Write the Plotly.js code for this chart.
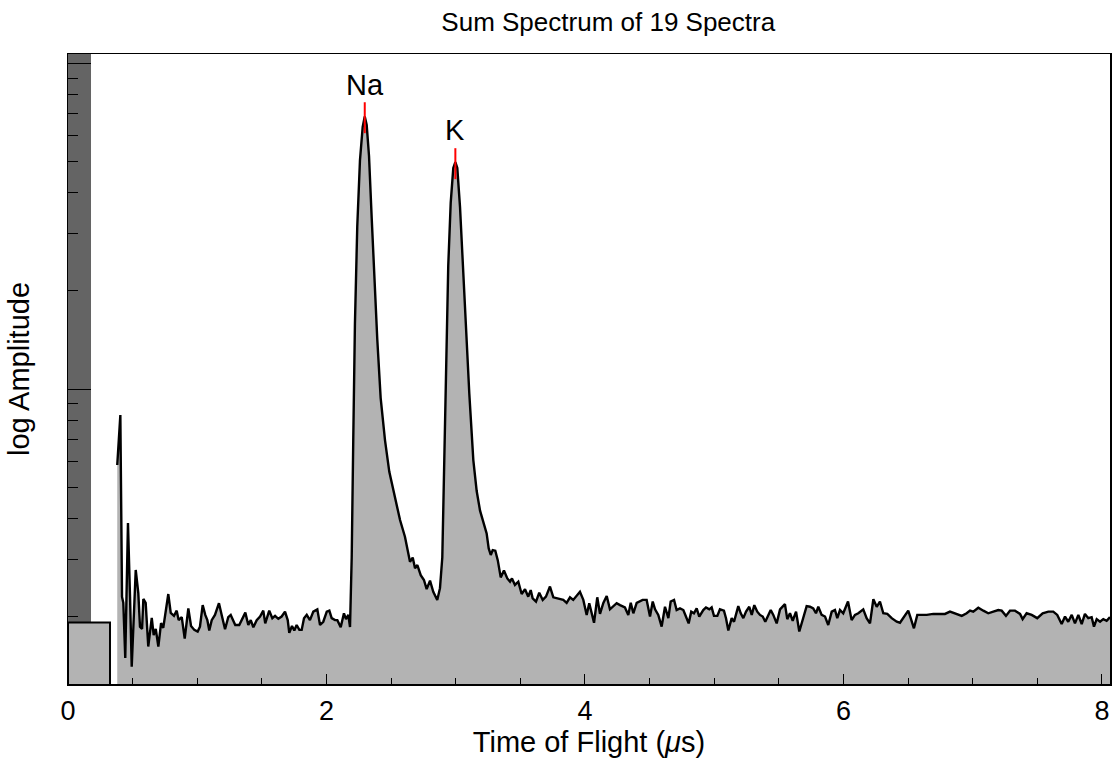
<!DOCTYPE html>
<html>
<head>
<meta charset="utf-8">
<script src="https://cdn.plot.ly/plotly-3.0.1.min.js"></script>
<style>html,body{margin:0;padding:0;background:#fff;}#chart{width:1112px;height:763px;}</style>
</head>
<body>
<div id="chart"></div>
<script>
// Time of flight (microseconds)
const tof = [
0.381,0.405,0.418,0.428,0.443,0.464,0.480,0.493,0.524,0.544,
0.557,0.573,0.583,0.601,0.621,0.648,0.663,0.679,0.699,0.720,
0.737,0.776,0.795,0.820,0.841,0.856,0.880,0.903,0.931,0.952,
0.977,1.003,1.021,1.042,1.062,1.078,1.093,1.112,1.137,1.168,
1.189,1.215,1.240,1.259,1.279,1.294,1.325,1.352,1.372,1.395,
1.414,1.434,1.460,1.486,1.511,1.526,1.557,1.581,1.602,1.627,
1.653,1.679,1.700,1.712,1.733,1.751,1.769,1.790,1.808,1.826,
1.847,1.872,1.898,1.929,1.950,1.975,2.002,2.022,2.040,2.066,
2.084,2.110,2.135,2.151,2.169,2.182,2.195,2.207,2.220,2.238,
2.259,2.280,2.296,2.311,2.329,2.350,2.370,2.393,2.419,2.453,
2.486,2.517,2.543,2.569,2.607,2.625,2.646,2.667,2.685,2.703,
2.729,2.754,2.775,2.801,2.826,2.857,2.878,2.896,2.909,2.925,
2.942,2.961,2.981,2.997,3.012,3.033,3.054,3.079,3.105,3.136,
3.162,3.188,3.213,3.239,3.255,3.271,3.286,3.306,3.325,3.348,
3.373,3.399,3.420,3.435,3.458,3.484,3.510,3.536,3.561,3.580,
3.595,3.621,3.646,3.673,3.698,3.729,3.755,3.793,3.832,3.858,
3.884,3.909,3.936,3.961,3.987,4.013,4.033,4.070,4.095,4.116,
4.142,4.168,4.193,4.219,4.245,4.271,4.309,4.335,4.354,4.374,
4.400,4.446,4.477,4.503,4.524,4.542,4.567,4.593,4.619,4.645,
4.663,4.689,4.709,4.735,4.761,4.781,4.802,4.822,4.843,4.864,
4.884,4.915,4.936,4.962,4.980,4.998,5.024,5.044,5.075,5.091,
5.109,5.135,5.153,5.186,5.205,5.225,5.246,5.271,5.290,5.310,
5.333,5.354,5.375,5.395,5.418,5.437,5.457,5.483,5.509,5.547,
5.565,5.586,5.607,5.633,5.658,5.684,5.715,5.741,5.766,5.787,
5.805,5.831,5.857,5.882,5.909,5.934,5.952,5.973,5.998,6.035,
6.063,6.089,6.115,6.153,6.179,6.205,6.231,6.257,6.282,6.308,
6.339,6.373,6.412,6.437,6.463,6.501,6.520,6.545,6.571,6.644,
6.695,6.747,6.785,6.824,6.876,6.915,6.953,6.979,7.004,7.043,
7.082,7.120,7.159,7.198,7.224,7.257,7.288,7.327,7.366,7.386,
7.417,7.456,7.499,7.541,7.585,7.623,7.654,7.688,7.714,7.739,
7.766,7.791,7.817,7.843,7.868,7.894,7.920,7.938,7.959,7.985,
8.010,8.036,8.062
];
// log10 of summed amplitude
const logAmp = [
1.767,1.920,1.362,1.344,1.175,1.589,1.362,1.148,1.445,1.374,
1.271,1.264,1.356,1.344,1.210,1.298,1.245,1.264,1.210,1.282,
1.267,1.371,1.313,1.304,1.320,1.291,1.300,1.234,1.327,1.273,
1.261,1.256,1.271,1.337,1.307,1.291,1.259,1.291,1.307,1.343,
1.307,1.263,1.300,1.307,1.289,1.276,1.276,1.300,1.314,1.276,
1.291,1.269,1.291,1.302,1.320,1.281,1.320,1.297,1.304,1.295,
1.302,1.317,1.291,1.252,1.273,1.259,1.276,1.261,1.261,1.297,
1.307,1.291,1.317,1.324,1.276,1.286,1.317,1.320,1.297,1.291,
1.291,1.269,1.312,1.294,1.307,1.270,1.483,1.842,2.200,2.499,
2.702,2.804,2.836,2.810,2.715,2.523,2.344,2.152,1.973,1.842,
1.746,1.687,1.644,1.598,1.547,1.516,1.470,1.483,1.450,1.460,
1.429,1.414,1.386,1.412,1.378,1.353,1.389,1.483,1.722,2.081,
2.379,2.571,2.678,2.696,2.678,2.559,2.391,2.176,1.985,1.782,
1.687,1.627,1.593,1.557,1.511,1.491,1.506,1.504,1.475,1.422,
1.443,1.419,1.409,1.419,1.399,1.409,1.371,1.386,1.363,1.383,
1.358,1.348,1.375,1.353,1.363,1.394,1.361,1.358,1.353,1.344,
1.361,1.353,1.368,1.378,1.353,1.307,1.343,1.283,1.361,1.310,
1.344,1.365,1.324,1.334,1.343,1.337,1.330,1.307,1.344,1.312,
1.344,1.353,1.353,1.302,1.348,1.324,1.307,1.271,1.332,1.297,
1.348,1.353,1.322,1.327,1.322,1.302,1.281,1.317,1.312,1.327,
1.302,1.322,1.330,1.324,1.330,1.304,1.304,1.324,1.320,1.297,
1.259,1.297,1.286,1.334,1.312,1.297,1.317,1.332,1.307,1.337,
1.317,1.307,1.302,1.286,1.307,1.322,1.307,1.281,1.324,1.340,
1.294,1.312,1.289,1.317,1.256,1.291,1.334,1.332,1.327,1.312,
1.332,1.307,1.302,1.276,1.317,1.322,1.297,1.322,1.312,1.348,
1.291,1.307,1.312,1.324,1.297,1.281,1.355,1.332,1.348,1.312,
1.310,1.297,1.286,1.283,1.297,1.320,1.297,1.266,1.307,1.307,
1.310,1.310,1.310,1.317,1.310,1.304,1.312,1.320,1.317,1.329,
1.320,1.312,1.317,1.322,1.320,1.304,1.320,1.320,1.310,1.294,
1.312,1.307,1.297,1.312,1.317,1.317,1.307,1.279,1.302,1.286,
1.307,1.281,1.307,1.279,1.310,1.297,1.300,1.271,1.294,1.286,
1.294,1.289,1.300
];

// Spectrum-count box (log amplitude of 19) and dead-time band
const countBoxX = [0, 0.325];
const countBoxLog = 1.284;
const deadBandX = [0, 0.178];

// Peak identifications
const peakNames = ['Na', 'K'];
const peakTimes = [2.296, 2.997];
const peakMarkLow = [2.785, 2.644];
const peakMarkHigh = [2.880, 2.739];
const peakLabelLog = [2.933, 2.794];

// Axes
const xMajor = [0, 2, 4, 6, 8];
const xMinor = [0.5, 1, 1.5, 2.5, 3, 3.5, 4.5, 5, 5.5, 6.5, 7, 7.5];
const yRange = [1.095, 3.028];
const yMajorAmp = [100, 1000];
const yMinorAmp = [20,30,40,50,60,70,80,90,200,300,400,500,600,700,800,900];

const FONT = 'Liberation Sans, Arial, Helvetica, sans-serif';
const yLow = yRange[0] - 1, yHigh = yRange[1] + 1;

const traces = [];
// dark band
traces.push({
  x: [deadBandX[0], deadBandX[0], deadBandX[1], deadBandX[1], deadBandX[0]],
  y: [countBoxLog, yHigh, yHigh, countBoxLog, countBoxLog],
  mode: 'lines', fill: 'toself', fillcolor: '#646464',
  line: {width: 0, color: '#646464'}, hoverinfo: 'skip', showlegend: false
});
// count box
traces.push({
  x: [countBoxX[0], countBoxX[0], countBoxX[1], countBoxX[1]],
  y: [yLow, countBoxLog, countBoxLog, yLow],
  mode: 'lines', fill: 'toself', fillcolor: '#b3b3b3',
  line: {width: 2, color: '#000'}, hoverinfo: 'skip', showlegend: false
});
// spectrum
traces.push({
  x: tof, y: logAmp, mode: 'lines', fill: 'tozeroy', fillcolor: '#b3b3b3',
  line: {width: 2.4, color: '#000'}, showlegend: false
});
// peak markers
peakNames.forEach((n, i) => {
  traces.push({
    x: [peakTimes[i], peakTimes[i]], y: [peakMarkLow[i], peakMarkHigh[i]],
    mode: 'lines', line: {width: 2, color: '#ff0000'}, showlegend: false, hoverinfo: 'skip'
  });
});

const annotations = peakNames.map((n, i) => ({
  x: peakTimes[i], y: peakLabelLog[i], xref: 'x', yref: 'y', text: n,
  showarrow: false, font: {family: FONT, size: 29, color: '#000'},
  xanchor: 'center', yanchor: 'middle'
}));

const layout = {
  width: 1112, height: 763,
  margin: {l: 68, r: 2, t: 54, b: 79},
  paper_bgcolor: '#fff', plot_bgcolor: '#fff',
  font: {family: FONT, color: '#000', size: 26},
  title: {text: 'Sum Spectrum of 19 Spectra', font: {family: FONT, size: 26, color: '#000'},
          x: 0.547, xref: 'container', xanchor: 'center', y: 1 - 22/763, yanchor: 'middle', yref: 'container'},
  showlegend: false,
  annotations: annotations,
  xaxis: {
    range: [0, 8.062], showgrid: false, zeroline: false,
    showline: true, linecolor: '#000', linewidth: 1.5, mirror: true,
    ticks: 'inside', ticklen: 10, tickwidth: 1, tickcolor: '#000',
    tickmode: 'array', tickvals: xMajor, ticktext: xMajor.map(String),
    tickfont: {family: FONT, size: 27, color: '#000'},
    ticklabelstandoff: 2,
    minor: {tickmode: 'array', tickvals: xMinor, ticks: 'inside', ticklen: 6, tickwidth: 1, tickcolor: '#000', showgrid: false},
    title: {text: 'Time of Flight (<i>μ</i>s)', font: {family: FONT, size: 29, color: '#000'}, standoff: 5}
  },
  yaxis: {
    range: yRange, showgrid: false, zeroline: false,
    showline: true, linecolor: '#000', linewidth: 1.5, mirror: true,
    ticks: 'inside', ticklen: 23, tickwidth: 1, tickcolor: '#000',
    tickmode: 'array', tickvals: yMajorAmp.map(Math.log10), showticklabels: false,
    minor: {tickmode: 'array', tickvals: yMinorAmp.map(Math.log10), ticks: 'inside', ticklen: 10, tickwidth: 1, tickcolor: '#000', showgrid: false},
    title: {text: 'log Amplitude', font: {family: FONT, size: 29, color: '#000'}, standoff: 28}
  }
};

Plotly.newPlot('chart', traces, layout, {staticPlot: true, displayModeBar: false});
</script>
</body>
</html>
